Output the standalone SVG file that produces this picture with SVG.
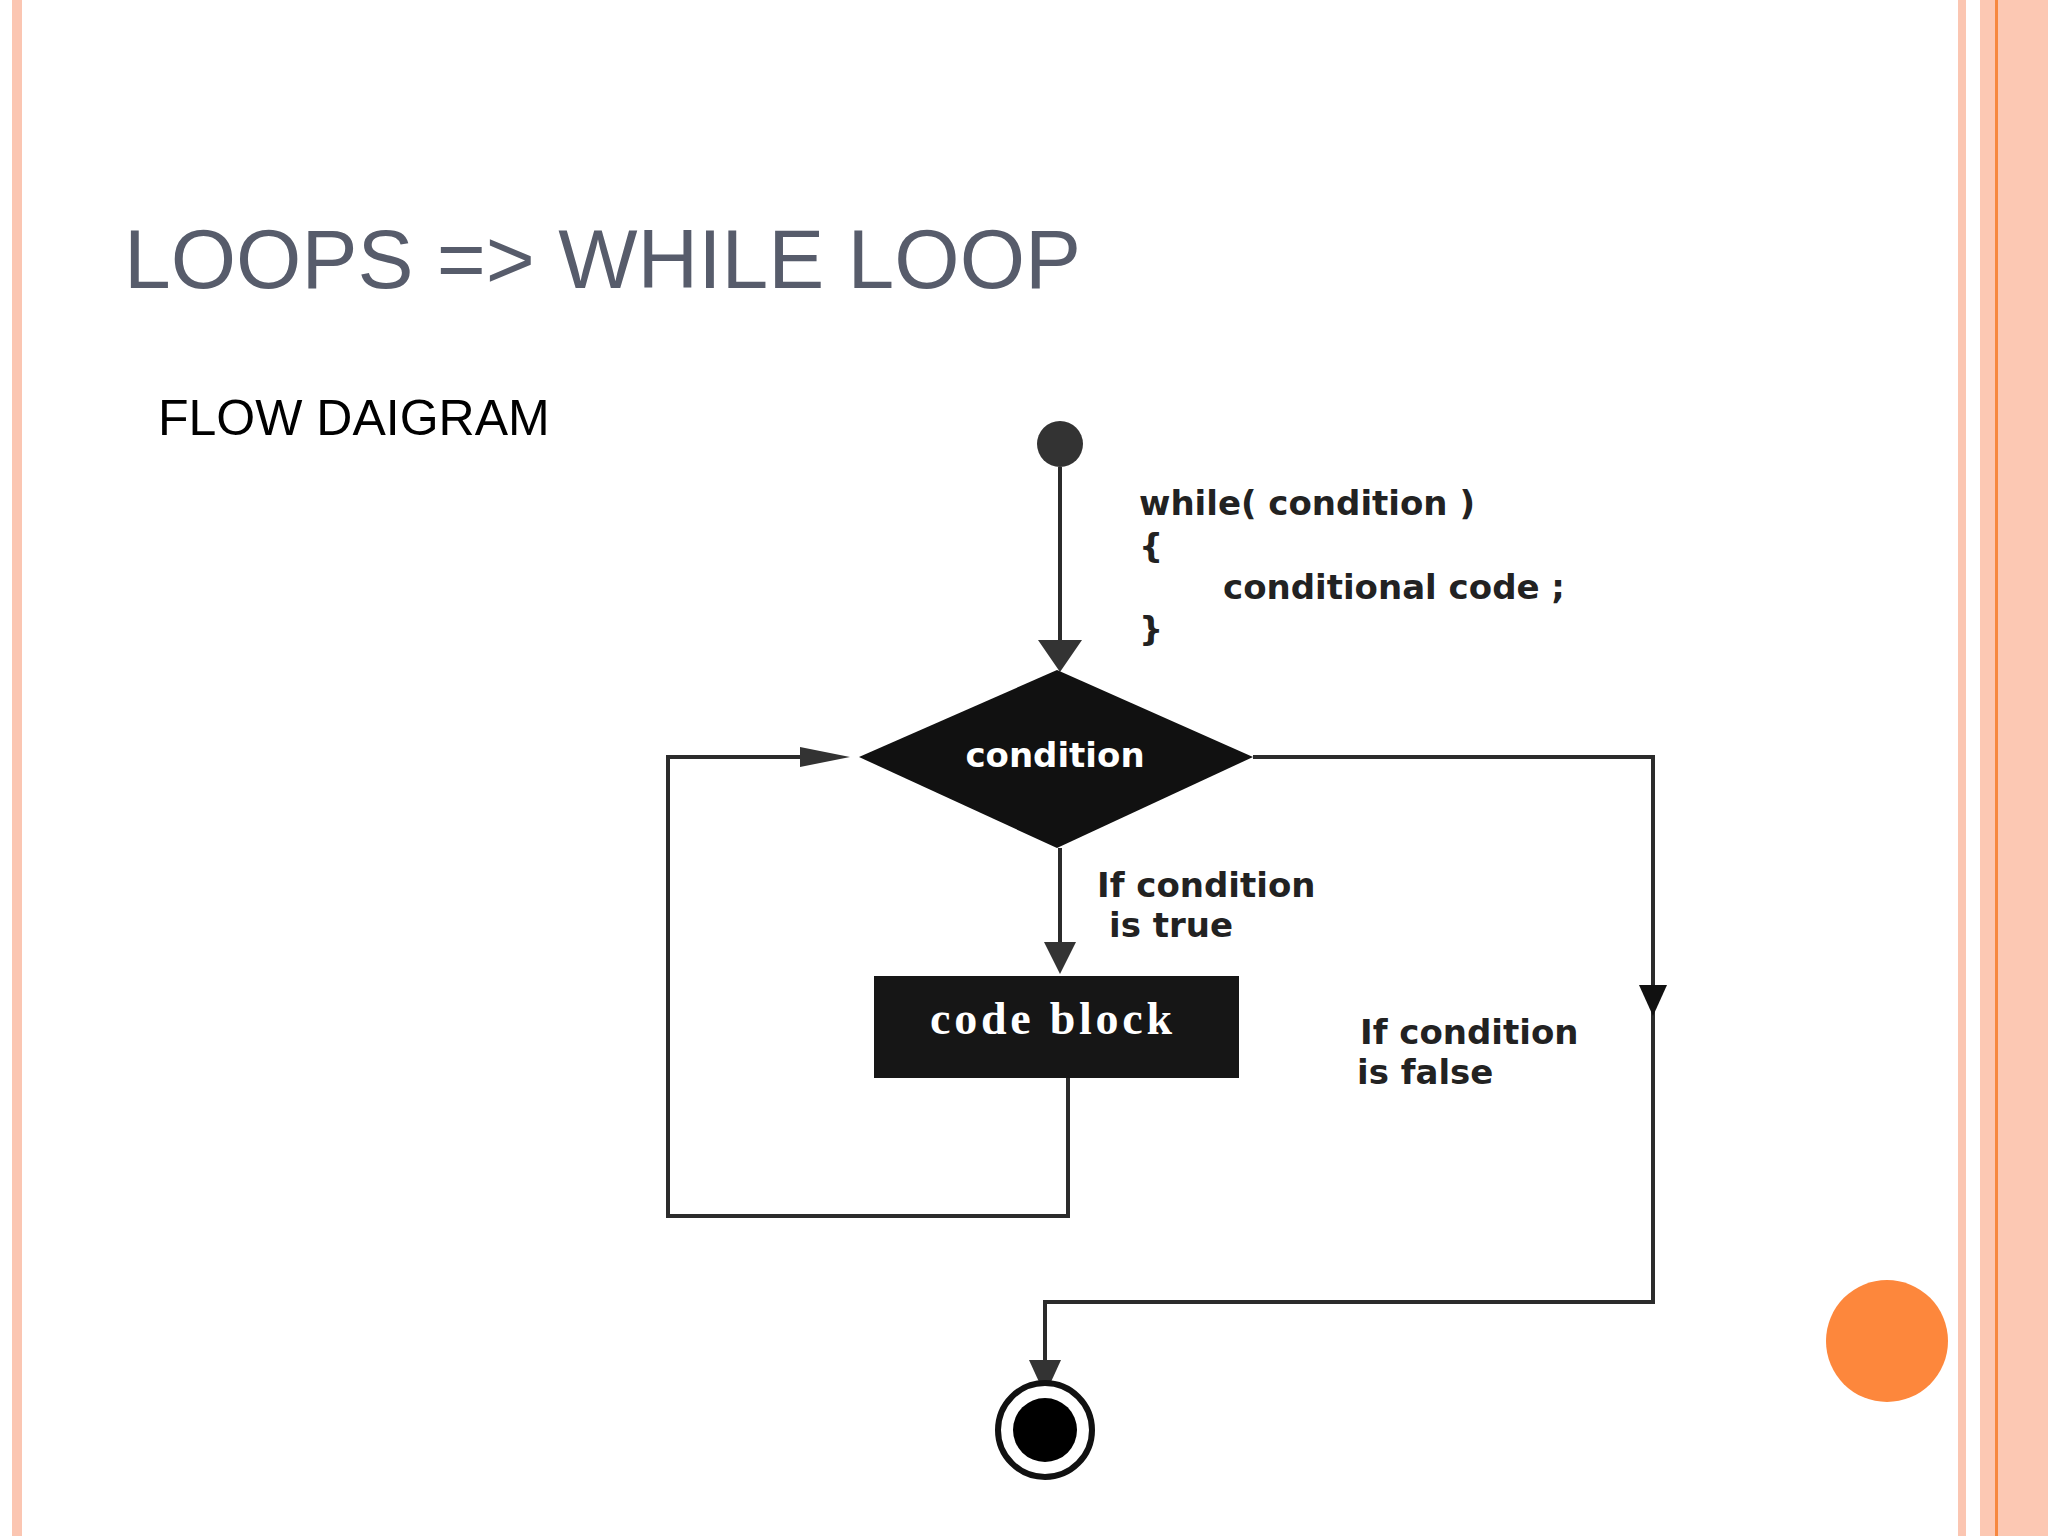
<svg xmlns="http://www.w3.org/2000/svg" width="2048" height="1536" viewBox="0 0 2048 1536">
<style>
.ln{fill:none;stroke:#2b2b2b;stroke-width:4}
.t{font-family:"DejaVu Sans",Verdana,sans-serif;font-weight:bold;fill:#222;font-size:34px}
.w{fill:#fff}
</style>
<rect width="2048" height="1536" fill="#fff"/>
<rect x="12" y="0" width="10" height="1536" fill="#fbc6b2"/>
<rect x="1958" y="0" width="8" height="1536" fill="#fbc6b2"/>
<rect x="1980" y="0" width="68" height="1536" fill="#fcc8b3"/>
<rect x="1995" y="0" width="3" height="1536" fill="#f7883f"/>
<circle cx="1887" cy="1341" r="61" fill="#fd873c"/>
<text x="124" y="288" font-family="Liberation Sans,Arial,sans-serif" font-size="84" fill="#575c6b">LOOPS =&gt; WHILE LOOP</text>
<text x="158" y="435" font-family="Liberation Sans,Arial,sans-serif" font-size="50" fill="#000">FLOW DAIGRAM</text>
<g id="connectors">
<line class="ln" x1="1060" y1="467" x2="1060" y2="650"/>
<path d="M1038,640L1082,640L1060,672z" fill="#333"/>
<path class="ln" d="M1068,1078V1216H668V757H820"/>
<path d="M800,747L850,757L800,767z" fill="#333"/>
<line class="ln" x1="1060" y1="848" x2="1060" y2="950"/>
<path d="M1044,942L1076,942L1060,974z" fill="#333"/>
<path class="ln" d="M1253,757H1653V1302H1045V1375"/>
<path d="M1639,985L1667,985L1653,1016z" fill="#111"/>
<path d="M1029,1360L1061,1360L1045,1395z" fill="#333"/>
</g>
<g id="start"><circle cx="1060" cy="444" r="23" fill="#333"/></g>
<g id="decision"><path d="M1057,670L1253,757L1057,848L859,757z" fill="#111"/><text x="1055" y="767" text-anchor="middle" class="t w" font-size="31">condition</text></g>
<g id="codeblock"><rect x="874" y="976" width="365" height="102" fill="#161616"/><text x="1051" y="1034" text-anchor="middle" font-family="Liberation Serif,serif" font-weight="bold" font-size="46" fill="#fff" textLength="242">code block</text></g>
<g id="end"><circle cx="1045" cy="1430" r="47" fill="#fff" stroke="#111" stroke-width="6"/><circle cx="1045" cy="1430" r="32" fill="#000"/></g>
<g id="code">
<text x="1139" y="515" class="t">while( condition )</text>
<text x="1139" y="558" class="t">{</text>
<text x="1223" y="599" class="t">conditional code ;</text>
<text x="1139" y="641" class="t">}</text>
</g>
<g id="labels">
<text x="1097" y="897" class="t">If condition</text>
<text x="1109" y="937" class="t">is true</text>
<text x="1360" y="1044" class="t">If condition</text>
<text x="1357" y="1084" class="t">is false</text>
</g>
</svg>
